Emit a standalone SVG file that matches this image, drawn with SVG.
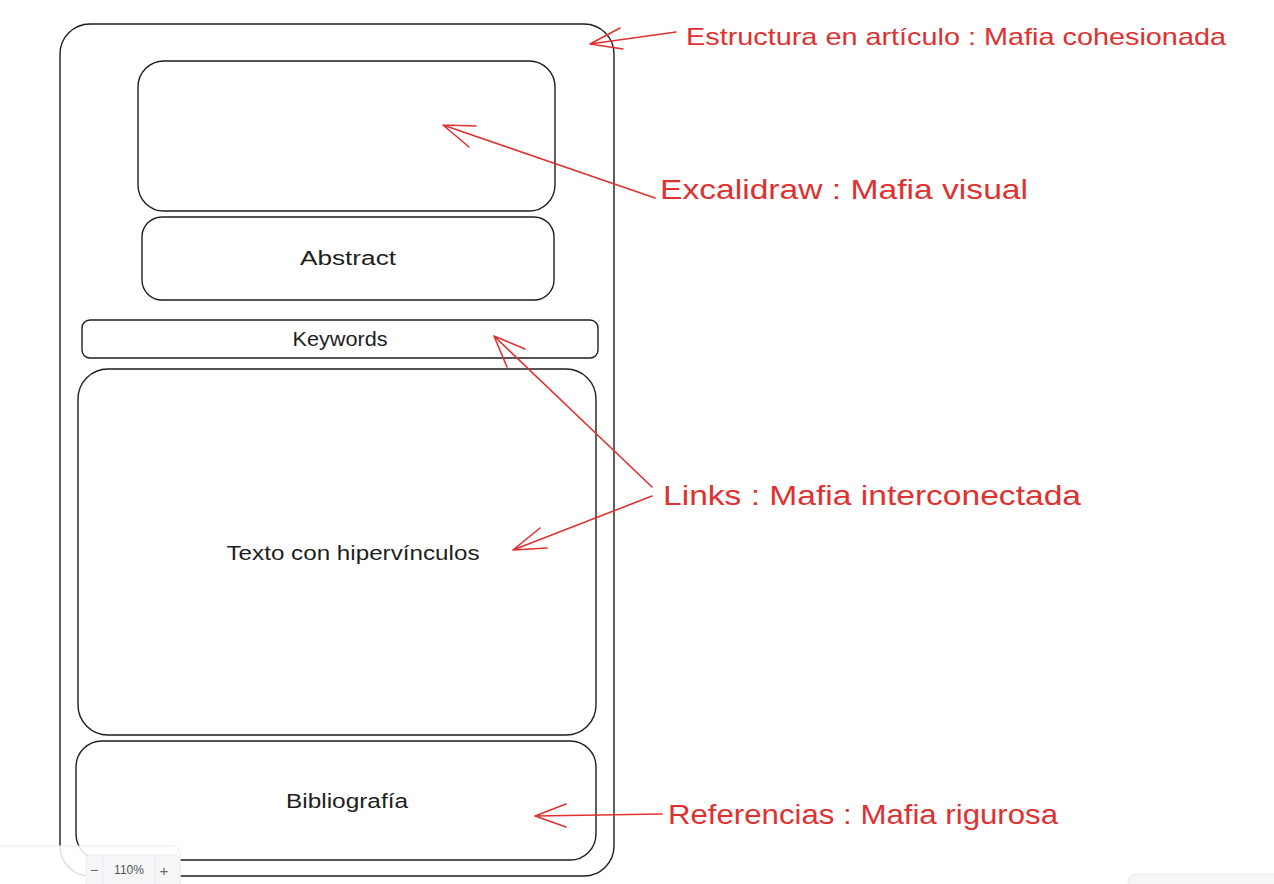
<svg xmlns="http://www.w3.org/2000/svg" width="1274" height="884" viewBox="0 0 1274 884">
<style>
.box{fill:none;stroke:#1e1e1e;stroke-width:1.4}
.lbl{font-family:"Liberation Sans",Arial,sans-serif;font-size:20px;fill:#1e1e1e;text-anchor:middle;dominant-baseline:central}
.red{font-family:"Liberation Sans",Arial,sans-serif;fill:#e03131;dominant-baseline:central}
.ar{fill:none;stroke:#e03131;stroke-width:1.6;stroke-linecap:round;stroke-linejoin:round}
</style>
<rect width="1274" height="884" fill="#ffffff"/>
<g id="outer"><rect class="box" x="60" y="24" width="554" height="852" rx="30"/></g>
<g id="image"><rect class="box" x="138" y="61" width="417" height="150" rx="26"/></g>
<g id="abstract"><rect class="box" x="142" y="217" width="412" height="83" rx="20"/><text class="lbl" x="348" y="258" textLength="96" lengthAdjust="spacingAndGlyphs">Abstract</text></g>
<g id="keywords"><rect class="box" x="82" y="320" width="516" height="38" rx="8"/><text class="lbl" x="340" y="339" textLength="95" lengthAdjust="spacingAndGlyphs">Keywords</text></g>
<g id="texto"><rect class="box" x="78" y="369" width="518" height="366" rx="30"/><text class="lbl" x="353" y="553" textLength="253" lengthAdjust="spacingAndGlyphs">Texto con hipervínculos</text></g>
<g id="biblio"><rect class="box" x="76" y="741" width="520" height="119" rx="26"/><text class="lbl" x="347" y="801" textLength="122" lengthAdjust="spacingAndGlyphs">Bibliografía</text></g>
<g id="lbl-estructura"><text class="red" x="686" y="36" font-size="24" textLength="540" lengthAdjust="spacingAndGlyphs">Estructura en artículo : Mafia cohesionada</text></g>
<g id="lbl-excalidraw"><text class="red" x="660" y="189" font-size="28" textLength="368" lengthAdjust="spacingAndGlyphs">Excalidraw : Mafia visual</text></g>
<g id="lbl-links"><text class="red" x="663" y="495" font-size="28" textLength="418" lengthAdjust="spacingAndGlyphs">Links : Mafia interconectada</text></g>
<g id="lbl-referencias"><text class="red" x="668" y="814" font-size="28" textLength="390" lengthAdjust="spacingAndGlyphs">Referencias : Mafia rigurosa</text></g>
<g id="connectors">
<path class="ar" d="M676 32 L590 44 M620 28 L590 44 L623 49"/>
<path class="ar" d="M655 198 L443 125 M476 126 L443 125 L469 147"/>
<path class="ar" d="M652 487 L494 336 M525 349 L494 336 L507 367"/>
<path class="ar" d="M652 496 L513 550 M540 528 L513 550 L547 548"/>
<path class="ar" d="M662 814 L535 816 M566 804 L535 816 L566 827"/>
</g>
<g id="ui">
<rect x="-10" y="846" width="190" height="50" rx="8" fill="#ffffff" fill-opacity="0.85" stroke="#ececf2"/>
<rect x="86" y="855" width="94" height="40" rx="6" fill="#f6f6f9" stroke="#ececf2"/>
<line x1="103" y1="855" x2="103" y2="884" stroke="#ececf2"/>
<line x1="155" y1="855" x2="155" y2="884" stroke="#ececf2"/>
<text x="94" y="870" font-family="Liberation Sans,sans-serif" font-size="14" fill="#666" text-anchor="middle" dominant-baseline="central">−</text>
<text x="129" y="870" font-family="Liberation Sans,sans-serif" font-size="12" fill="#555" text-anchor="middle" dominant-baseline="central">110%</text>
<text x="164" y="870" font-family="Liberation Sans,sans-serif" font-size="15" fill="#666" text-anchor="middle" dominant-baseline="central">+</text>
<rect x="1128" y="874" width="160" height="30" rx="8" fill="#f6f6f9" stroke="#ececf2"/>
</g>
</svg>
